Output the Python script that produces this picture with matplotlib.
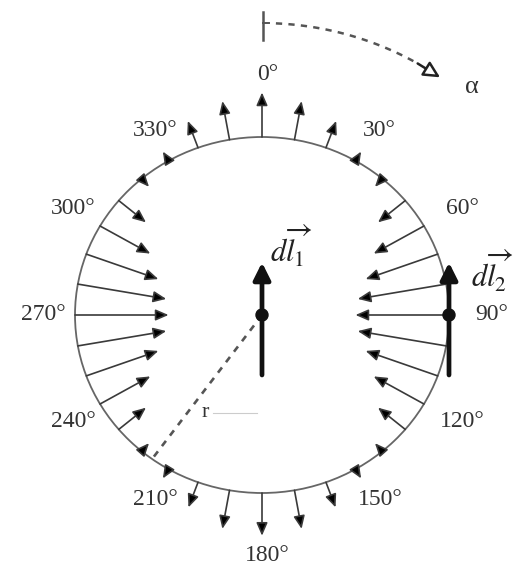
import numpy as np
import matplotlib
matplotlib.use("Agg")
import matplotlib.pyplot as plt
from matplotlib.patches import FancyArrowPatch, Ellipse, ArrowStyle

# Angle of each current element around the ring (degrees, clockwise from top)
angles_deg = list(range(0, 360, 10))
# Radial force on each element (positive = toward the centre, in ring radii)
force = [-0.25, -0.22, -0.16, -0.06, 0.06, 0.19, 0.31, 0.41, 0.48,
         0.50, 0.48, 0.41, 0.31, 0.19, 0.06, -0.06, -0.15, -0.22,
         -0.24, -0.22, -0.15, -0.06, 0.06, 0.19, 0.31, 0.41, 0.48,
         0.50, 0.48, 0.41, 0.31, 0.19, 0.06, -0.06, -0.16, -0.22]
# Angle ticks written around the ring
label_angles = [0, 30, 60, 90, 120, 150, 180, 210, 240, 270, 300, 330]
label_texts = [f"{a}°" for a in label_angles]
# Direction of the radius drawn to one element
radius_angle = 216

plt.rcParams['mathtext.fontset'] = 'stix'

fig = plt.figure(figsize=(5.16, 5.71), dpi=100)
ax = fig.add_axes([0, 0, 1, 1])
ax.set_xlim(-262 / 187, 254 / 187)
ax.set_ylim(-256 / 178, 315 / 178)
ax.axis('off')

serif = 'Liberation Serif'
ink = '#333333'

# ring
ax.add_patch(Ellipse((0, 0), 2, 2, fill=False, ec='#666666', lw=1.3))

def unit(a):
    t = np.deg2rad(a)
    return np.sin(t), np.cos(t)

small_head = ArrowStyle('-|>', head_length=0.6, head_width=0.26)
for a, f in zip(angles_deg, force):
    ux, uy = unit(a)
    start = (ux, uy)
    end = ((1 - f) * ux, (1 - f) * uy)
    ax.add_patch(FancyArrowPatch(start, end, arrowstyle=small_head,
                                 mutation_scale=13, lw=1.2, color='#3a3a3a',
                                 fc='black', shrinkA=0, shrinkB=0))

# angle labels
for a, txt in zip(label_angles, label_texts):
    r = 1.35 if a in (0, 180) else 1.2
    ux, uy = unit(a)
    ax.text(r * ux + 0.03, r * uy, txt, ha='center', va='center',
            fontsize=17, family=serif, color=ink)

# current elements dl1 (centre) and dl2 (at 90°)
big_head = ArrowStyle('-|>', head_length=0.6, head_width=0.3)
for x0 in (0.0, 1.0):
    ax.add_patch(FancyArrowPatch((x0, -0.337), (x0, 0.295), arrowstyle=big_head,
                                 mutation_scale=17, lw=3.4, color='#111111',
                                 shrinkA=0, shrinkB=0, zorder=4))
    ax.add_patch(Ellipse((x0, 0), 12 / 187, 12 / 178, color='#111111', zorder=5))

ax.text(0.155, 0.39, r'$d\overrightarrow{l_1}$', ha='center', va='center',
        fontsize=22, color='#222222')
ax.text(1.12, 0.25, r'$d\overrightarrow{l_2}$', ha='left', va='center',
        fontsize=22, color='#222222')

# radius to an element
rx, ry = unit(radius_angle)
ax.plot([0, rx], [0, ry], ls=(0, (2.5, 2.5)), color='#555555', lw=1.9)
ax.text(-0.305, -0.545, 'r', ha='center', va='center', fontsize=16,
        family=serif, color=ink)
ax.plot([-0.262, -0.027], [-0.55, -0.55], color='#cccccc', lw=0.8)

# reference direction and sense of the angle alpha
R = 1.64
ax.plot([0.005, 0.005], [1.545, 1.70], color='#555555', lw=1.8)
ax.plot([0.005, 0.035], [R, R], color='#555555', lw=1.4)
arc = np.deg2rad(np.linspace(2.6, 30.5, 60))
ax.plot(R * np.sin(arc), R * np.cos(arc), ls=(0, (2.5, 2.5)),
        color='#555555', lw=1.8)
a0, a1 = np.deg2rad(30.5), np.deg2rad(35.5)
ax.add_patch(FancyArrowPatch((R * np.sin(a0), R * np.cos(a0)),
                             (R * np.sin(a1), R * np.cos(a1)),
                             arrowstyle=ArrowStyle('-|>', head_length=0.7, head_width=0.35),
                             mutation_scale=14, lw=1.8, ec='#222222', fc='white',
                             shrinkA=0, shrinkB=0))
ax.text(1.12, 1.28, 'α', ha='center', va='center', fontsize=19,
        family=serif, color=ink)

fig.savefig('out.png', dpi=100)
